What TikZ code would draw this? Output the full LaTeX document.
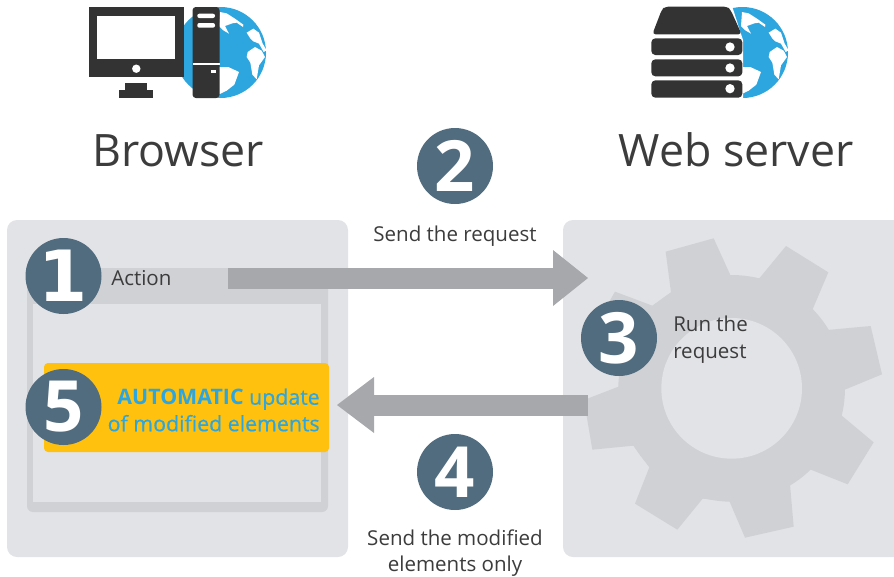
\documentclass[tikz,border=0pt]{standalone}
\usepackage{fontspec}
\setmainfont{Open Sans}
\newfontfamily\onefont{DejaVu Sans}
\newfontfamily\semifont[FakeBold=0.35]{Open Sans}
\usetikzlibrary{arrows.meta}
\definecolor{panel}{HTML}{E2E3E7}
\definecolor{frame}{HTML}{D0D1D5}
\definecolor{flow}{HTML}{A7A8AC}
\definecolor{badge}{HTML}{516C7E}
\definecolor{amber}{HTML}{FFC10E}
\definecolor{sky}{HTML}{2DA5DE}
\definecolor{ink}{HTML}{333333}
\definecolor{txt}{HTML}{3C3C3C}
\tikzset{
  panelbox/.style={fill=panel,rounded corners=7.5pt},
  numbadge/.style={circle,fill=badge,text=white,minimum size=57pt,inner sep=0pt,font=\fontsize{53}{53}\selectfont\bfseries},
  title/.style={text=txt,inner sep=0pt,anchor=base,font=\fontsize{33.5}{40}\selectfont},
  caption/.style={text=txt,inner sep=0pt,font=\fontsize{15.4}{19.9}\selectfont},
  blockflow/.style={draw=flow,line width=15.75pt,-{Triangle[length=#1,width=42pt,line width=0pt]}},
  devicepart/.style={fill=ink},
}
\newcommand{\earth}[2]{%
  \begin{scope}[shift={(#1-5.5,#2-50.5)},x=0.25pt,y=-0.25pt]
    \fill[sky] (16.5,151.5) circle (136.5);
    \fill[white] (15,30) -- (35,34) -- (60,50) -- (85,68) -- (84,75) -- (65,62) -- (52,64) -- (30,72) -- (42,95) -- (25,85) -- (12,72) -- cycle;
    \fill[white] (95,92) -- (115,80) -- (132,92) -- (143,125) -- (155,145) -- (146,150) -- (132,125) -- (115,118) -- (105,108) -- cycle;
    \fill[white] (98,150) -- (120,135) -- (140,146) -- (150,165) -- (132,190) -- (125,232) -- (112,218) -- (106,182) -- (95,165) -- cycle;
    \fill[white] (10,195) -- (40,195) -- (72,210) -- (58,248) -- (35,266) -- (10,278) -- cycle;
  \end{scope}}
\begin{document}
\begin{tikzpicture}[x=0.75pt,y=-0.75pt]
\useasboundingbox (0,0) rectangle (894,576);
% panels
\fill[panelbox] (7,220) rectangle (348,557);
\begin{scope}
  \clip (0,0) rectangle (894,576);
  \fill[panelbox] (563,220) rectangle (920,557);
\end{scope}
% browser window
\fill[frame,rounded corners=4.5pt] (27,268) rectangle (328,512);
\fill[panel] (33,304) rectangle (321,502);
% gear
\begin{scope}[shift={(560,215)},x=0.25pt,y=-0.25pt]
  \fill[frame] (317,110) -- (461,70) -- (511,180) -- (598,190) -- (678,93) -- (805,172) -- (757,285)
    -- (802,345) -- (932,333) -- (966,478) -- (852,525) -- (843,600) -- (941,682) -- (863,808) -- (750,763)
    -- (690,808) -- (701,935) -- (555,968) -- (508,858) -- (428,851) -- (352,944) -- (225,866) -- (268,757)
    -- (220,692) -- (97,704) -- (72,555) -- (183,512) -- (183,445) -- (85,370) -- (165,230) -- (277,272) -- (333,232) -- cycle;
  \fill[frame] (515,520) circle (340);
  \fill[panel] (515,520) circle (211);
\end{scope}
% amber box
\fill[amber,rounded corners=3pt] (44,363) rectangle (329,452);
% flows
\coordinate (reqStart) at (228,278);
\coordinate (reqEnd) at (588,278);
\coordinate (respStart) at (588,405);
\coordinate (respEnd) at (337,405);
\draw[blockflow=26.25pt] (reqStart) -- (reqEnd);
\draw[blockflow=27.75pt] (respStart) -- (respEnd);
% badges
\node[numbadge] (n1) at (63.5,276) {\onefont 1};
\node[numbadge] (n2) at (455,166) {2};
\node[numbadge] (n3) at (619,338) {3};
\node[numbadge] (n4) at (455,472) {4};
\node[numbadge] (n5) at (63.5,407) {5};
% texts
\node[title] (browser) at (178,166) {Browser};
\node[title] (webserver) at (736,166) {Web server};
\node[caption,anchor=base] (send) at (455,241) {Send the request};
\node[caption,anchor=base west] (action) at (111,285) {Action};
\node[caption,align=left,anchor=west] (run) at (673,339.5) {Run the\\request};
\node[caption,align=center] (mod) at (455,553) {Send the modified\\elements only};
\node[caption,align=right,anchor=east,text=sky,font=\fontsize{16}{19.9}\selectfont] (auto) at (320,410) {{\rmfamily\bfseries AUTOMATIC} {\semifont update}\\{\semifont of modified elements}};
% computer
\earth{220.5}{52.5}
\fill[devicepart] (88.7,7) rectangle (184,76.7);
\fill[white] (97.3,15.7) rectangle (175,59.3);
\fill[white] (136.3,68.7) circle (4.2);
\fill[devicepart] (125.3,83.3) rectangle (147.3,90.3);
\fill[devicepart] (118.7,90.3) rectangle (153.3,97.7);
\fill[devicepart,rounded corners=2.5pt] (192.5,7) rectangle (219.5,98);
\fill[white,rounded corners=1.5pt] (197.3,13.7) rectangle (215,18);
\fill[white,rounded corners=1.5pt] (197.3,23) rectangle (215,27.7);
\fill[white] (192.5,63.2) rectangle (219.5,64.8);
\fill[white] (210.7,70.3) rectangle (215.7,72.7);
% server
\earth{742.5}{52.5}
\fill[white] (690,6) -- (732,6) -- (743,40) -- (743,98) -- (690,98) -- cycle;
\begin{scope}[shift={(640,0)},x=0.25pt,y=-0.25pt]
  \fill[devicepart,rounded corners=2.5pt] (37,103) -- (65,30) -- (75,20) -- (262,20) -- (272,30) -- (305,103) -- cycle;
  \fill[devicepart,rounded corners=3pt] (34,115) rectangle (307,165);
  \fill[devicepart,rounded corners=3pt] (34,178) rectangle (307,229);
  \fill[devicepart,rounded corners=3pt] (34,241) rectangle (307,293);
  \fill[white] (270,141) circle (14);
  \fill[white] (270,204) circle (14);
  \fill[white] (270,266) circle (14);
\end{scope}
\end{tikzpicture}
\end{document}
